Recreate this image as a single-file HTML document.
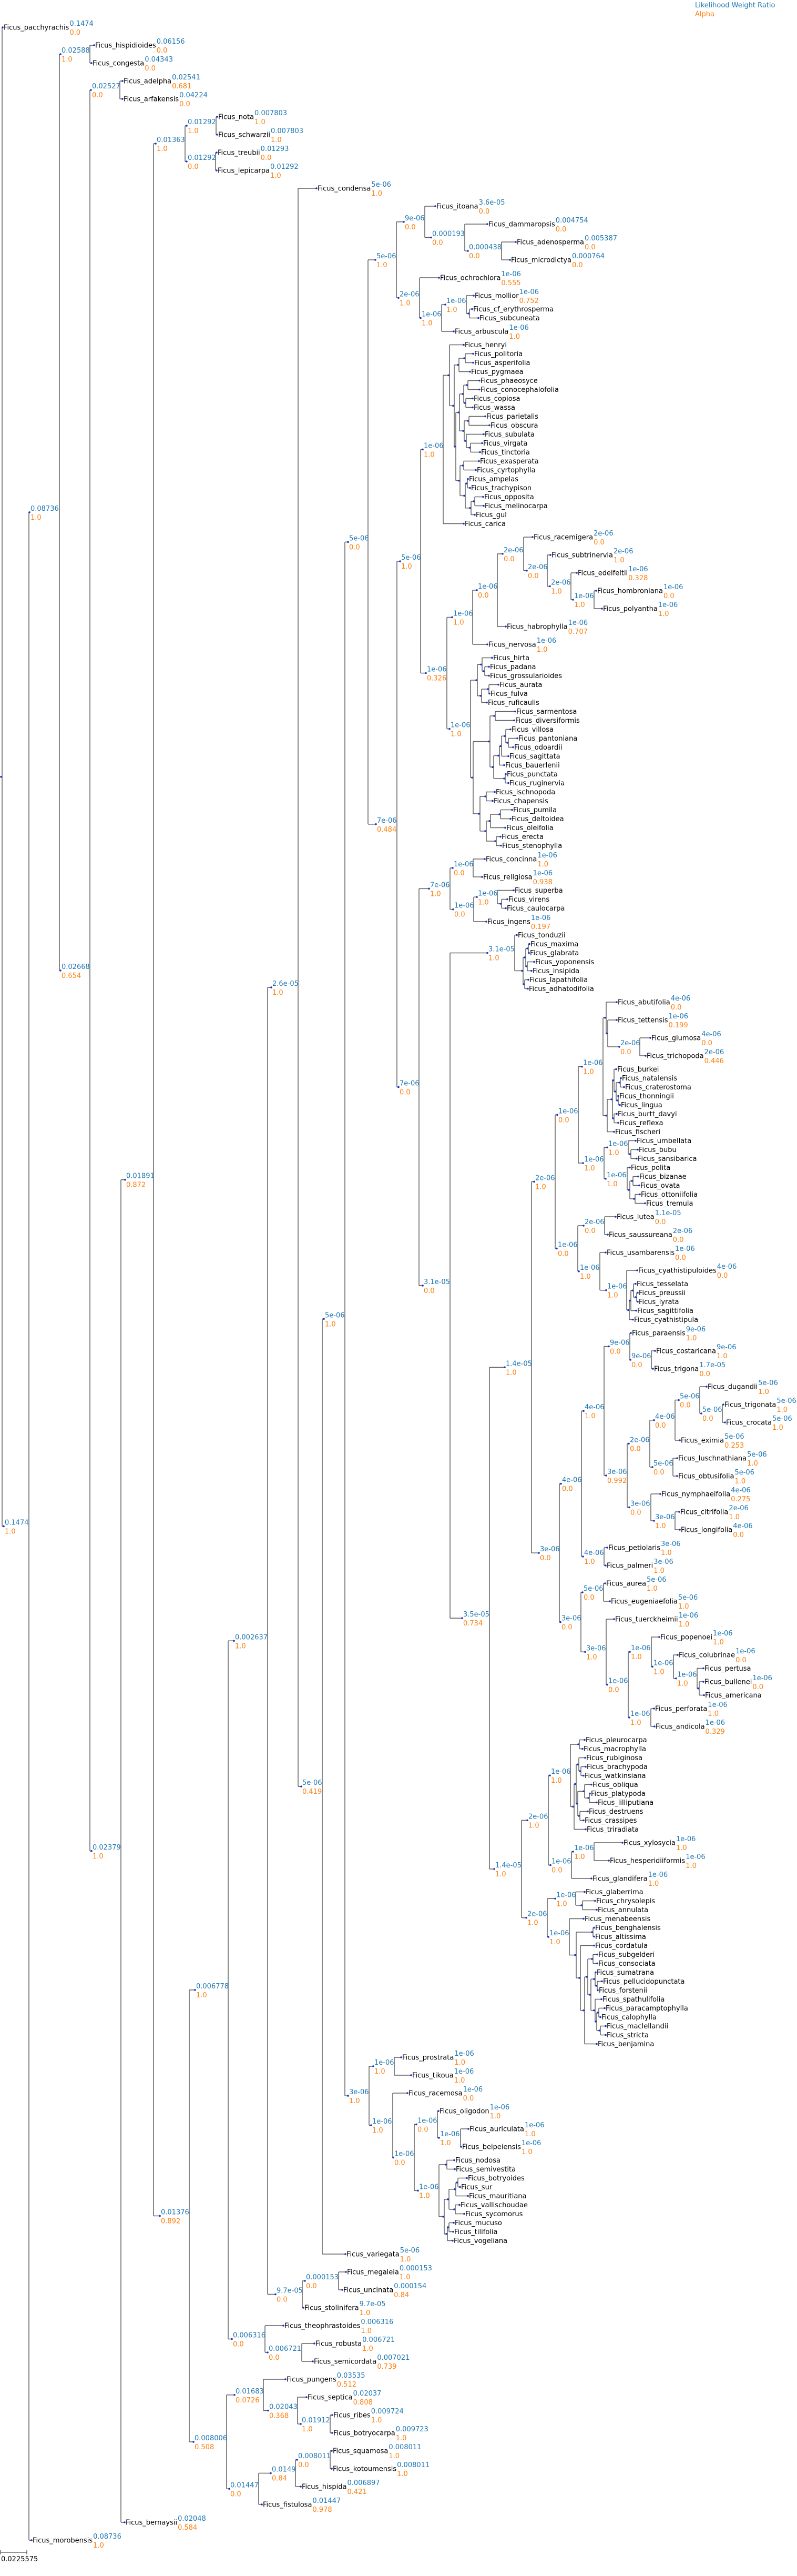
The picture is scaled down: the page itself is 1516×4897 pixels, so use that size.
<!DOCTYPE html>
<html><head><meta charset="utf-8">
<style>
html,body{margin:0;padding:0;background:#fff;}
svg{display:block;}
text{font-family:"DejaVu Sans","Liberation Sans",sans-serif;font-size:13px;}
</style></head>
<body>
<svg id="s" xmlns="http://www.w3.org/2000/svg" width="1516" height="4897" viewBox="0 0 1516 4897">
<rect width="1516" height="4897" fill="#fff"/>
<text x="1322" y="14" fill="#1f77b4">Likelihood Weight Ratio</text>
<text x="1322" y="31" fill="#ff7f0e">Alpha</text>
<line x1="1" y1="4852" x2="51" y2="4852" stroke="#555" stroke-width="1.3"/>
<line x1="1" y1="4848" x2="1" y2="4856" stroke="#555" stroke-width="1.3"/>
<line x1="51" y1="4848" x2="51" y2="4856" stroke="#555" stroke-width="1.3"/>
<text x="2" y="4869" fill="#000">0.0225575</text>
<g id="lines"></g><g id="dots"></g><g id="txt"></g>
</svg>
<script>
function L(name,x,bl,sup){return {name:name,x:x,bl:bl,sup:sup,leaf:true};}
function U(name,x){return {name:name,x:x,leaf:true};}
function N(x,vx,bl,sup,ch){return {x:x,vx:vx,bl:bl,sup:sup,ch:ch};}
function M(x,ch){return {x:x,vx:x+2,ch:ch};}

var A_cluster = M(853,[U('Ficus_henryi',882), M(862,[M(871,[M(883,[U('Ficus_politoria',900),U('Ficus_asperifolia',900)]),U('Ficus_pygmaea',894)]),
  M(865,[M(872,[M(880,[M(888,[U('Ficus_phaeosyce',912),U('Ficus_conocephalofolia',912)]),M(884,[U('Ficus_copiosa',899),U('Ficus_wassa',899)])]),
     M(881,[M(890,[U('Ficus_parietalis',923),U('Ficus_obscura',931)]),M(885,[U('Ficus_subulata',920),M(893,[U('Ficus_virgata',917),U('Ficus_tinctoria',913)])])])]),
   M(873,[M(880,[U('Ficus_exasperata',911),U('Ficus_cyrtophylla',905)]),M(883,[M(887,[U('Ficus_ampelas',890),U('Ficus_trachypison',894)]),M(894,[M(901,[U('Ficus_opposita',919),U('Ficus_melinocarpa',920)]),U('Ficus_gul',903)])])])])])]);

var T_cl = M(906,[M(915,[U('Ficus_hirta',936),M(920,[U('Ficus_padana',930),U('Ficus_grossularioides',930)])]),M(914,[M(928,[U('Ficus_aurata',948),U('Ficus_fulva',931)]),U('Ficus_ruficaulis',926)])]);
var U_cl = M(898,[M(930,[M(940,[U('Ficus_sarmentosa',980),U('Ficus_diversiformis',978)]),M(937,[M(948,[M(952,[M(960,[U('Ficus_villosa',971),M(965,[U('Ficus_pantoniana',984),U('Ficus_odoardii',976)])]),U('Ficus_sagittata',967)]),U('Ficus_bauerlenii',959)]),M(959,[U('Ficus_punctata',962),U('Ficus_ruginervia',967)])])]),
  M(911,[M(923,[U('Ficus_ischnopoda',941),U('Ficus_chapensis',937)]),M(923,[M(931,[M(950,[U('Ficus_pumila',974),U('Ficus_deltoidea',971)]),U('Ficus_oleifolia',961)]),M(942,[U('Ficus_erecta',952),U('Ficus_stenophylla',953)])])])]);

var AU = M(1151,[L('Ficus_abutifolia',1173,'4e-06','0.0'),M(1154,[L('Ficus_tettensis',1173,'1e-06','0.199'),N(1178,1217,'2e-06','0.0',[L('Ficus_glumosa',1237,'4e-06','0.0'),L('Ficus_trichopoda',1228,'2e-06','0.446')])])]);
var AV = M(1153,[M(1163,[M(1166,[U('Ficus_burkei',1172),M(1170,[M(1178,[U('Ficus_natalensis',1181),U('Ficus_craterostoma',1187)]),M(1174,[U('Ficus_thonningii',1176),U('Ficus_lingua',1179)])])]),M(1166,[U('Ficus_burtt_davyi',1173),U('Ficus_reflexa',1176)])]),U('Ficus_fischeri',1168)]);

var N14a = N(960,1011,'1.4e-05','1.0',[
 N(1016,1056,'2e-06','1.0',[
  N(1060,1100,'1e-06','0.0',[
   N(1107,1147,'1e-06','1.0',[AU,AV]),
   N(1109,1149,'1e-06','1.0',[
     N(1155,1195,'1e-06','1.0',[U('Ficus_umbellata',1209),M(1198,[U('Ficus_bubu',1213),U('Ficus_sansibarica',1211)])]),
     N(1152,1193,'1e-06','1.0',[U('Ficus_polita',1198),M(1196,[M(1202,[U('Ficus_bizanae',1214),U('Ficus_ovata',1216)]),M(1206,[U('Ficus_ottoniifolia',1217),U('Ficus_tremula',1227)])])])])]),
  N(1059,1099,'1e-06','0.0',[
   N(1110,1150,'2e-06','0.0',[L('Ficus_lutea',1171,'1.1e-05','0.0'),L('Ficus_saussureana',1156,'2e-06','0.0')]),
   N(1101,1141,'1e-06','1.0',[L('Ficus_usambarensis',1152,'1e-06','0.0'),
     N(1153,1192,'1e-06','1.0',[L('Ficus_cyathistipuloides',1212,'4e-06','0.0'),
       M(1195,[M(1198,[M(1203,[U('Ficus_tesselata',1209),M(1209,[U('Ficus_preussii',1213),U('Ficus_lyrata',1213)])]),U('Ficus_sagittifolia',1210)]),U('Ficus_cyathistipula',1204)])])])])]),
 N(1025,1064,'3e-06','0.0',[
  N(1067,1106,'4e-06','0.0',[
   N(1110,1149,'4e-06','1.0',[
    N(1158,1198,'9e-06','0.0',[L('Ficus_paraensis',1200,'9e-06','1.0'),N(1199,1239,'9e-06','0.0',[L('Ficus_costaricana',1246,'9e-06','1.0'),L('Ficus_trigona',1242,'1.7e-05','0.0')])]),
    N(1153,1193,'3e-06','0.992',[
     N(1196,1236,'2e-06','0.0',[
      N(1244,1284,'4e-06','0.0',[N(1291,1331,'5e-06','0.0',[L('Ficus_dugandii',1344,'5e-06','1.0'),N(1334,1374,'5e-06','0.0',[L('Ficus_trigonata',1376,'5e-06','1.0'),L('Ficus_crocata',1379,'5e-06','1.0')])]),L('Ficus_eximia',1293,'5e-06','0.253')]),
      N(1241,1280,'5e-06','0.0',[L('Ficus_luschnathiana',1288,'5e-06','1.0'),L('Ficus_obtusifolia',1288,'5e-06','1.0')])]),
     N(1197,1238,'3e-06','0.0',[L('Ficus_nymphaeifolia',1256,'4e-06','0.275'),N(1244,1284,'3e-06','1.0',[L('Ficus_citrifolia',1292,'2e-06','1.0'),L('Ficus_longifolia',1293,'4e-06','0.0')])])])]),
   N(1109,1149,'4e-06','1.0',[L('Ficus_petiolaris',1155,'3e-06','1.0'),L('Ficus_palmeri',1152,'3e-06','1.0')])]),
  N(1066,1105,'3e-06','0.0',[
   N(1108,1148,'5e-06','0.0',[L('Ficus_aurea',1151,'5e-06','1.0'),L('Ficus_eugeniaefolia',1160,'5e-06','1.0')]),
   N(1113,1153,'3e-06','1.0',[L('Ficus_tuerckheimii',1168,'1e-06','1.0'),
     N(1155,1195,'1e-06','0.0',[
      N(1198,1239,'1e-06','1.0',[L('Ficus_popenoei',1254,'1e-06','1.0'),N(1241,1281,'1e-06','1.0',[L('Ficus_colubrinae',1289,'1e-06','0.0'),N(1286,1326,'1e-06','1.0',[U('Ficus_pertusa',1338),M(1328,[L('Ficus_bullenei',1338,'1e-06','0.0'),U('Ficus_americana',1339)])])])]),
      N(1197,1238,'1e-06','1.0',[L('Ficus_perforata',1244,'1e-06','1.0'),L('Ficus_andicola',1245,'1e-06','0.329')])])])])])]);

var N14b = N(940,992,'1.4e-05','1.0',[
 N(1003,1043,'2e-06','1.0',[
  N(1046,1085,'1e-06','1.0',[M(1100,[U('Ficus_pleurocarpa',1112),U('Ficus_macrophylla',1108)]),
    M(1090,[M(1094,[M(1099,[U('Ficus_rubiginosa',1113),M(1103,[U('Ficus_brachypoda',1114),U('Ficus_watkinsiana',1110)])]),M(1097,[M(1110,[U('Ficus_obliqua',1125),M(1119,[U('Ficus_platypoda',1122),U('Ficus_lilliputiana',1135)])]),M(1101,[U('Ficus_destruens',1118),U('Ficus_crassipes',1110)])])]),U('Ficus_triradiata',1114)])]),
  N(1047,1087,'1e-06','0.0',[N(1090,1130,'1e-06','1.0',[L('Ficus_xylosycia',1184,'1e-06','1.0'),L('Ficus_hesperidiiformis',1158,'1e-06','1.0')]),L('Ficus_glandifera',1125,'1e-06','1.0')])]),
 N(1001,1041,'2e-06','1.0',[
  N(1056,1095,'1e-06','1.0',[U('Ficus_glaberrima',1112),M(1106,[U('Ficus_chrysolepis',1132),U('Ficus_annulata',1135)])]),
  N(1043,1083,'1e-06','1.0',[U('Ficus_menabeensis',1110),M(1094,[M(1126,[U('Ficus_benghalensis',1130),U('Ficus_altissima',1130)]),
    M(1102,[U('Ficus_cordatula',1130),M(1110,[M(1116,[M(1126,[U('Ficus_subgelderi',1136),U('Ficus_consociata',1136)]),
      M(1122,[M(1130,[U('Ficus_sumatrana',1133),M(1134,[U('Ficus_pellucidopunctata',1145),U('Ficus_forstenii',1137)])]),
        M(1130,[U('Ficus_spathulifolia',1144),M(1133,[M(1137,[U('Ficus_paracamptophylla',1150),U('Ficus_calophylla',1142)]),M(1140,[U('Ficus_maclellandii',1152),U('Ficus_stricta',1152)])])])])]),U('Ficus_benjamina',1135)])])])])])]);

var N3e6 = N(662,702,'3e-06','1.0',[
 N(710,750,'1e-06','1.0',[L('Ficus_prostrata',763,'1e-06','1.0'),L('Ficus_tikoua',782,'1e-06','1.0')]),
 N(706,747,'1e-06','1.0',[L('Ficus_racemosa',775,'1e-06','0.0'),
  N(748,788,'1e-06','0.0',[
   N(792,832,'1e-06','0.0',[L('Ficus_oligodon',834,'1e-06','1.0'),N(835,876,'1e-06','1.0',[L('Ficus_auriculata',891,'1e-06','1.0'),L('Ficus_beipeiensis',877,'1e-06','1.0')])]),
   N(795,835,'1e-06','1.0',[M(848,[U('Ficus_nodosa',864),U('Ficus_semivestita',865)]),
     M(843,[M(852,[M(865,[M(869,[U('Ficus_botryoides',888),U('Ficus_sur',875)]),U('Ficus_mauritiana',890)]),M(864,[U('Ficus_vallischoudae',874),U('Ficus_sycomorus',883)])]),
       M(849,[M(852,[U('Ficus_mucuso',863),U('Ficus_tilifolia',862)]),U('Ficus_vogeliana',861)])])])])])]);

var B5 = N(714,754,'5e-06','1.0',[
 N(768,808,'9e-06','0.0',[L('Ficus_itoana',828,'3.6e-05','0.0'),N(820,884,'0.000193','0.0',[L('Ficus_dammaropsis',927,'0.004754','0.0'),N(890,954,'0.000438','0.0',[L('Ficus_adenosperma',981,'0.005387','0.0'),L('Ficus_microdictya',970,'0.000764','0.0')])])]),
 N(758,798,'2e-06','1.0',[L('Ficus_ochrochlora',835,'1e-06','0.555'),N(800,840,'1e-06','1.0',[N(847,887,'1e-06','1.0',[L('Ficus_mollior',901,'1e-06','0.752'),M(891,[U('Ficus_cf_erythrosperma',898),U('Ficus_subcuneata',910)])]),L('Ficus_arbuscula',863,'1e-06','1.0')])])]);

var N7e484 = N(715,755,'7e-06','0.484',[
 N(761,800,'5e-06','1.0',[
  N(804,843,'1e-06','1.0',[A_cluster,U('Ficus_carica',882)]),
  N(810,850,'1e-06','0.326',[
   N(860,899,'1e-06','1.0',[N(907,946,'1e-06','0.0',[N(956,996,'2e-06','0.0',[L('Ficus_racemigera',1013,'2e-06','0.0'),N(1002,1041,'2e-06','0.0',[L('Ficus_subtrinervia',1047,'2e-06','1.0'),N(1046,1086,'2e-06','1.0',[L('Ficus_edelfeltii',1097,'1e-06','0.328'),N(1090,1130,'1e-06','1.0',[L('Ficus_hombroniana',1134,'1e-06','0.0'),L('Ficus_polyantha',1145,'1e-06','1.0')])])])]),L('Ficus_habrophylla',962,'1e-06','0.707')]),L('Ficus_nervosa',927,'1e-06','1.0')]),
   N(855,895,'1e-06','1.0',[T_cl,U_cl])])]),
 N(758,797,'7e-06','0.0',[
  N(816,856,'7e-06','1.0',[N(861,900,'1e-06','0.0',[L('Ficus_concinna',922,'1e-06','1.0'),L('Ficus_religiosa',917,'1e-06','0.938')]),
    N(862,901,'1e-06','0.0',[N(907,946,'1e-06','1.0',[U('Ficus_superba',977),M(952,[U('Ficus_virens',965),U('Ficus_caulocarpa',962)])]),L('Ficus_ingens',925,'1e-06','0.197')])]),
  N(804,856,'3.1e-05','0.0',[
   N(927,979,'3.1e-05','1.0',[U('Ficus_tonduzii',983),M(993,[M(998,[M(1003,[U('Ficus_maxima',1007),U('Ficus_glabrata',1006)]),M(1001,[U('Ficus_yoponensis',1016),U('Ficus_insipida',1011)])]),M(996,[U('Ficus_lapathifolia',1005),U('Ficus_adhatodifolia',1004)])])]),
   N(879,931,'3.5e-05','0.734',[N14a,N14b])])])]);

var ROOT = N(2,4,null,null,[
 L('Ficus_pacchyrachis',5,'0.1474','0.0'),
 N(7,55,'0.1474','1.0',[
  N(56,113,'0.08736','1.0',[
   N(115,171,'0.02588','1.0',[L('Ficus_hispidioides',179,'0.06156','0.0'),L('Ficus_congesta',174,'0.04343','0.0')]),
   N(115,171,'0.02668','0.654',[
    N(173,228,'0.02527','0.0',[L('Ficus_adelpha',233,'0.02541','0.681'),L('Ficus_arfakensis',233,'0.04224','0.0')]),
    N(174,230,'0.02379','1.0',[
     N(238,292,'0.01891','0.872',[
      N(296,352,'0.01363','1.0',[
       N(355,411,'0.01292','1.0',[L('Ficus_nota',413,'0.007803','1.0'),L('Ficus_schwarzii',413,'0.007803','1.0')]),
       N(355,410,'0.01292','0.0',[L('Ficus_treubii',412,'0.01293','0.0'),L('Ficus_lepicarpa',412,'0.01292','1.0')])]),
      N(304,360,'0.01376','0.892',[
       N(371,434,'0.006778','1.0',[
        N(445,509,'0.002637','1.0',[
         N(516,567,'2.6e-05','1.0',[
          L('Ficus_condensa',602,'5e-06','1.0'),
          N(573,613,'5e-06','0.419',[
           N(616,656,'5e-06','1.0',[
            N(662,700,'5e-06','0.0',[B5,N7e484]),
            N3e6]),
           L('Ficus_variegata',657,'5e-06','1.0')])]),
         N(524,575,'9.7e-05','0.0',[N(580,644,'0.000153','0.0',[L('Ficus_megaleia',658,'0.000153','1.0'),L('Ficus_uncinata',651,'0.000154','0.84')]),L('Ficus_stolinifera',577,'9.7e-05','1.0')])]),
        N(441,504,'0.006316','0.0',[L('Ficus_theophrastoides',539,'0.006316','1.0'),N(509,574,'0.006721','0.0',[L('Ficus_robusta',598,'0.006721','1.0'),L('Ficus_semicordata',595,'0.007021','0.739')])])]),
       N(368,431,'0.008006','0.508',[
        N(446,501,'0.01683','0.0726',[L('Ficus_pungens',543,'0.03535','0.512'),N(510,566,'0.02043','0.368',[L('Ficus_septica',583,'0.02037','0.808'),N(572,628,'0.01912','1.0',[L('Ficus_ribes',632,'0.009724','1.0'),L('Ficus_botryocarpa',632,'0.009723','1.0')])])]),
        N(436,492,'0.01447','0.0',[N(515,562,'0.0149','0.84',[N(565,628,'0.008011','0.0',[L('Ficus_squamosa',631,'0.008011','1.0'),L('Ficus_kotoumensis',631,'0.008011','1.0')]),L('Ficus_hispida',572,'0.006897','0.421')]),L('Ficus_fistulosa',498,'0.01447','0.978')])])])]),
     L('Ficus_bernaysii',237,'0.02048','0.584')])])]),
  L('Ficus_morobensis',60,'0.08736','1.0')])]);

var cv=document.createElement('canvas').getContext('2d');
cv.font='13px "DejaVu Sans"';
function tw(s){try{return cv.measureText(s).width;}catch(e){return s.length*7.3;}}

var cur=35;
function layY(n){
  if(n.leaf){var h=n.bl?17:8.5;n.y=cur+h;cur=n.y+h;return;}
  n.ch.forEach(layY);
  n.y=(n.ch[0].y+n.ch[n.ch.length-1].y)/2;
}
layY(ROOT);

var NS='http://www.w3.org/2000/svg';
var gL=document.getElementById('lines'),gD=document.getElementById('dots'),gT=document.getElementById('txt');
function el(g,tag,a,t){var e=document.createElementNS(NS,tag);for(var k in a)e.setAttribute(k,a[k]);if(t!=null)e.textContent=t;g.appendChild(e);return e;}
function line(x1,y1,x2,y2){el(gL,'line',{x1:x1,y1:y1,x2:x2,y2:y2,stroke:'#606060','stroke-width':1.5});}
function draw(n,parent){
  if(parent) line(parent.vx,n.y,n.x,n.y);
  el(gD,'circle',{cx:n.x,cy:n.y,r:1.8,fill:'#1533cc'});
  var lx;
  if(n.leaf){
    el(gT,'text',{x:n.x+2,y:n.y+4.5,fill:'#000'},n.name);
    lx=n.x+2+tw(n.name)+1;
  } else {
    lx=n.x+2;
    line(n.vx,n.ch[0].y,n.vx,n.ch[n.ch.length-1].y);
    n.ch.forEach(function(c){draw(c,n);});
  }
  if(n.bl){
    el(gT,'text',{x:lx,y:n.y-3,fill:'#1f77b4'},n.bl);
    el(gT,'text',{x:lx,y:n.y+14,fill:'#ff7f0e'},n.sup);
  }
}
draw(ROOT,null);
</script>
</body></html>
